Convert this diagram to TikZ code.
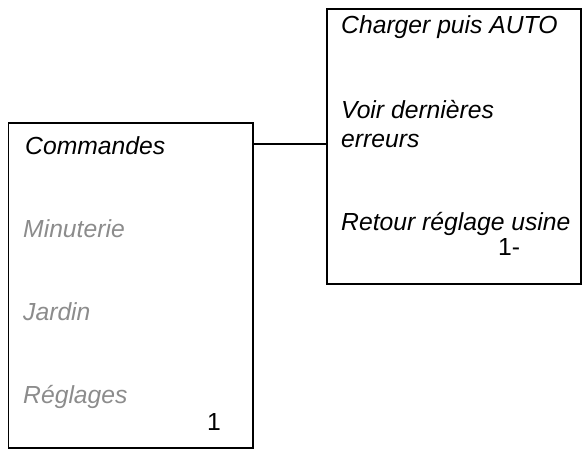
\documentclass[tikz,border=0pt]{standalone}
\usepackage{fontspec}
\setmainfont{Liberation Sans}
\begin{document}
\begin{tikzpicture}[x=1pt,y=1pt,
  panel/.style={draw=black,line width=1.5pt,rectangle,inner sep=0pt},
  item/.style={anchor=base west,inner sep=0pt,font=\fontsize{24.7}{28}\selectfont\itshape},
  dim/.style={text=black!45},
  num/.style={anchor=base west,inner sep=0pt,font=\fontsize{24.7}{28}\selectfont}]
\useasboundingbox (0,0) rectangle (584,-459);
\node[panel,minimum width=244.5pt,minimum height=325pt] (left) at (130.75,-285.5) {};
\node[panel,minimum width=254pt,minimum height=275pt] (right) at (454,-146.5) {};
\coordinate (c) at (0,-144);
\draw[line width=1.2pt] (left.east |- c) -- (right.west |- c);
\node[item] (t1) at (25,-154) {Commandes};
\node[item,dim] (t2) at (23,-237) {Minuterie};
\node[item,dim] (t3) at (23,-320) {Jardin};
\node[item,dim] (t4) at (23,-403) {Réglages};
\node[num] (n1) at (207,-430) {1};
\node[item] (r1) at (341,-33) {Charger puis AUTO};
\node[item] (r2) at (341,-118) {Voir dernières};
\node[item] (r3) at (341,-147) {erreurs};
\node[item] (r4) at (341,-230) {Retour réglage usine};
\node[num] (n2) at (498,-255) {1-};
\end{tikzpicture}
\end{document}
